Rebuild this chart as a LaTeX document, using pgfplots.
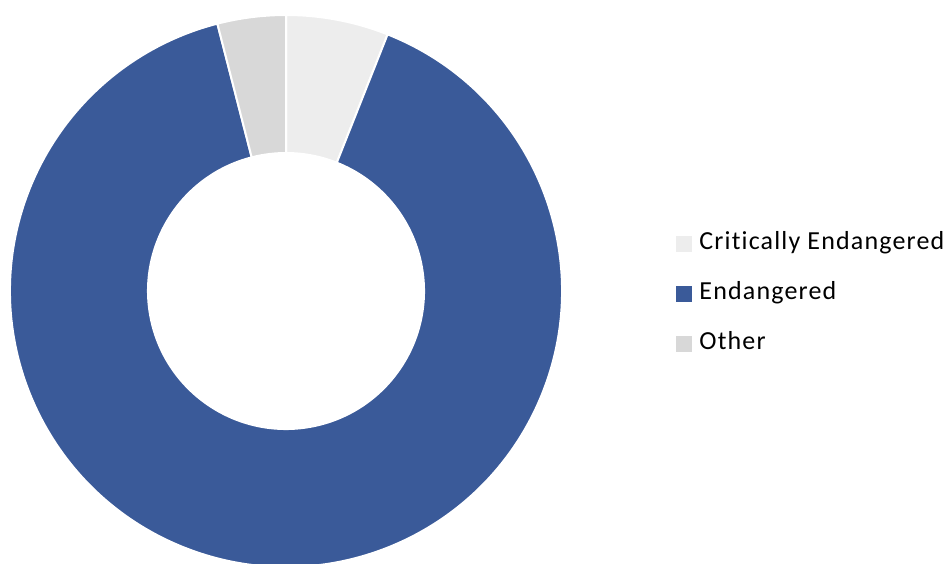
\documentclass[border=0pt]{standalone}
\usepackage{pgfplots}
\usepackage{pgfplotstable}
\pgfplotsset{compat=1.18}
\usepackage{fontspec}
\setmainfont{Carlito}
\newfontfamily\legfont[LetterSpace=4.5,Ligatures=NoCommon]{Carlito}
\definecolor{slice0}{HTML}{EDEDED}
\definecolor{slice1}{HTML}{3A5A99}
\definecolor{slice2}{HTML}{D8D8D8}

\pgfplotstableread{
label value
CriticallyEndangered 6
Endangered 90
Other 4
}\datatable

\begin{document}
\begin{tikzpicture}
\path[use as bounding box] (0,0) rectangle (473.5pt,281.5pt);
% cumulative angles from the table
\def\cum{0}
\pgfplotsforeachungrouped \i in {0,1,2}{%
  \pgfplotstablegetelem{\i}{value}\of\datatable
  \pgfmathsetmacro\sa{90-3.6*\cum}%
  \pgfmathsetmacro\cum{\cum+\pgfplotsretval}%
  \pgfmathsetmacro\sb{90-3.6*\cum}%
  \expandafter\xdef\csname sA\i\endcsname{\sa}%
  \expandafter\xdef\csname sB\i\endcsname{\sb}%
}
\begin{axis}[
  hide axis, clip=false,
  scale only axis,
  x=138pt, y=138pt,
  xmin=-1, xmax=1, ymin=-1, ymax=1,
  at={(143pt,136pt)}, anchor=origin,
  legend image code/.code={\fill[#1] (0pt,-4pt) rectangle (8pt,4pt);\path (10.5pt,0pt);},
  legend cell align=left,
  legend style={draw=none, fill=none, at={(1.2065,0.4946)}, anchor=west,
    inner sep=0pt, row sep=11pt,
    font=\legfont\fontsize{13pt}{15pt}\selectfont,
    nodes={inner sep=1pt, text height=9pt, text depth=3pt}},
]
\pgfplotsinvokeforeach{0,1,2}{%
  \fill[slice#1, draw=white, line width=1pt]
    (axis cs:{cos(\csname sA#1\endcsname)},{sin(\csname sA#1\endcsname)})
    arc[start angle=\csname sA#1\endcsname, end angle=\csname sB#1\endcsname, radius=138pt]
    -- (axis cs:{0.5*cos(\csname sB#1\endcsname)},{0.5*sin(\csname sB#1\endcsname)})
    arc[start angle=\csname sB#1\endcsname, end angle=\csname sA#1\endcsname, radius=69pt]
    -- cycle;
}
\addlegendimage{fill=slice0, draw=none}
\addlegendentry{Critically Endangered}
\addlegendimage{fill=slice1, draw=none}
\addlegendentry{Endangered}
\addlegendimage{fill=slice2, draw=none}
\addlegendentry{Other}
\end{axis}
\end{tikzpicture}
\end{document}
